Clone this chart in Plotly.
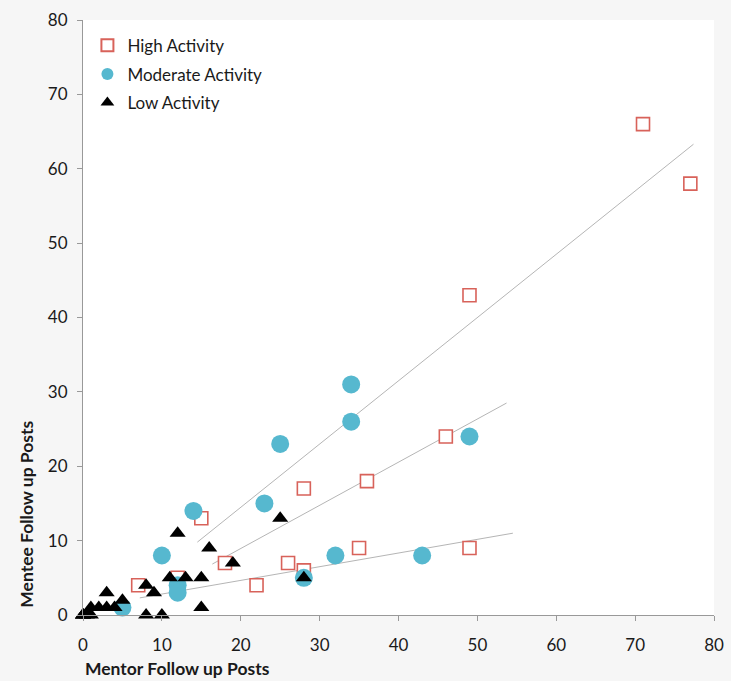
import plotly.graph_objects as go

# High activity (squares)
high_x = [71, 77, 49, 46, 36, 28, 15, 18, 12, 7, 22, 26, 28, 35, 49]
high_y = [66, 58, 43, 24, 18, 17, 13, 7, 5, 4, 4, 7, 6, 9, 9]

# Moderate activity (circles)
mod_x = [34, 34, 25, 49, 23, 14, 10, 12, 12, 32, 43, 28, 5]
mod_y = [31, 26, 23, 24, 15, 14, 8, 4, 3, 8, 8, 5, 1]

# Low activity (triangles)
low_x = [12, 25, 16, 19, 28, 11, 13, 15, 8, 9, 3, 5, 1, 2, 3, 4, 15, 8, 10, 0, 0, 1, 0.5, 0]
low_y = [11, 13, 9, 7, 5, 5, 5, 5, 4, 3, 3, 2, 1, 1, 1, 1, 1, 0, 0, 0, 0, 0, 0, 0]

# Trend line endpoints
trend_x = [[14.5, 77.4], [16.4, 53.7], [7.2, 54.5]]
trend_y = [[9.8, 63.3], [6.85, 28.5], [2.3, 11.0]]

x_ticks = [0, 10, 20, 30, 40, 50, 60, 70, 80]
y_ticks = [0, 10, 20, 30, 40, 50, 60, 70, 80]

fig = go.Figure()
for tx, ty in zip(trend_x, trend_y):
    fig.add_trace(go.Scatter(x=tx, y=ty, mode="lines", showlegend=False,
                             line=dict(color="#b5b5b5", width=1), hoverinfo="skip"))

fig.add_trace(go.Scatter(x=high_x, y=high_y, mode="markers", name="High Activity",
                         cliponaxis=False, legendgroup="h",
                         marker=dict(symbol="square", size=13, color="white",
                                     line=dict(color="#d8625a", width=1.6))))
fig.add_trace(go.Scatter(x=mod_x, y=mod_y, mode="markers", name="Moderate Activity",
                         cliponaxis=False, legendgroup="m",
                         marker=dict(symbol="circle", size=18, color="#56b8cf",
                                     line=dict(width=0))))
fig.add_trace(go.Scatter(x=low_x, y=low_y, mode="markers", name="Low Activity",
                         cliponaxis=False, legendgroup="l",
                         marker=dict(symbol="triangle-up", size=14, color="black",
                                     line=dict(width=0))))

font_family = "Lato, 'Open Sans', sans-serif"
fig.update_layout(
    width=731, height=681,
    margin=dict(l=83, r=17, t=20, b=66),
    paper_bgcolor="#f6f6f6",
    plot_bgcolor="white",
    font=dict(family=font_family, size=17, color="#1a1a1a"),
    showlegend=True,
    legend=dict(x=0.007, y=0.987, xanchor="left", yanchor="top",
                bgcolor="rgba(0,0,0,0)", font=dict(size=17), itemsizing="constant",
                itemwidth=30, tracegroupgap=3.5, traceorder="grouped"),
    xaxis=dict(range=[0, 80], tickvals=x_ticks, showgrid=False, zeroline=False,
               showline=True, linecolor="#999999", linewidth=1, automargin=False,
               ticks="outside", ticklen=5, tickcolor="#999999", ticklabelstandoff=10),
    yaxis=dict(range=[0, 80], tickvals=y_ticks, showgrid=False, zeroline=False,
               showline=True, linecolor="#999999", linewidth=1, automargin=False,
               ticks="outside", ticklen=5, tickcolor="#999999", ticklabelstandoff=6),
    annotations=[
        dict(text="<b>Mentor Follow up Posts</b>", xref="paper", yref="paper",
             x=0, y=-0.09, xanchor="left", yanchor="middle", showarrow=False,
             font=dict(size=17.5, color="#1a1a1a")),
        dict(text="<b>Mentee Follow up Posts</b>", xref="paper", yref="paper",
             x=-0.09, y=0.169, xanchor="center", yanchor="middle", showarrow=False,
             textangle=-90, font=dict(size=17.5, color="#1a1a1a")),
    ],
)

fig.write_html("out.html", config={"displayModeBar": False},
               post_script="document.body.style.margin='0';document.body.style.background='#f6f6f6';")
